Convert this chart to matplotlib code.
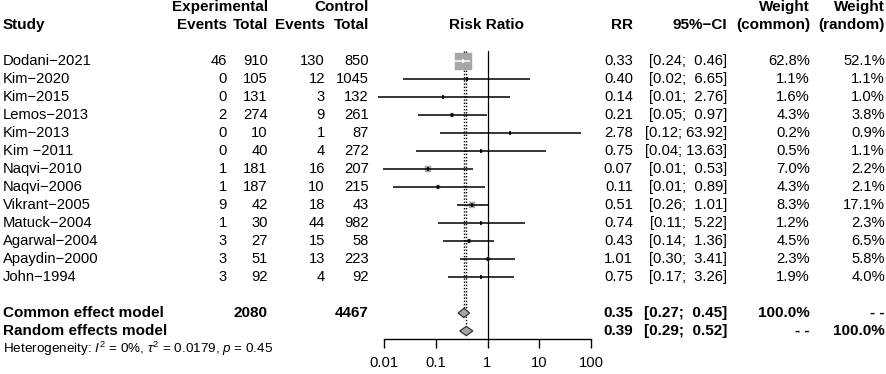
import matplotlib
matplotlib.use("Agg")
import matplotlib.pyplot as plt
import numpy as np

plt.rcParams['font.family'] = ['Liberation Sans', 'DejaVu Sans']
plt.rcParams['mathtext.fontset'] = 'custom'
plt.rcParams['mathtext.rm'] = 'Liberation Sans'
plt.rcParams['mathtext.it'] = 'Liberation Sans:italic'
plt.rcParams['mathtext.bf'] = 'Liberation Sans:bold'

# ---------------- data ----------------
studies = ["Dodani\u22122021", "Kim\u22122020", "Kim\u22122015", "Lemos\u22122013",
           "Kim\u22122013", "Kim \u22122011", "Naqvi\u22122010", "Naqvi\u22122006",
           "Vikrant\u22122005", "Matuck\u22122004", "Agarwal\u22122004",
           "Apaydin\u22122000", "John\u22121994"]
exp_events = [46, 0, 0, 2, 0, 0, 1, 1, 9, 1, 3, 3, 3]
exp_total = [910, 105, 131, 274, 10, 40, 181, 187, 42, 30, 27, 51, 92]
ctrl_events = [130, 12, 3, 9, 1, 4, 16, 10, 18, 44, 15, 13, 4]
ctrl_total = [850, 1045, 132, 261, 87, 272, 207, 215, 43, 982, 58, 223, 92]
rr = [0.33, 0.40, 0.14, 0.21, 2.78, 0.75, 0.07, 0.11, 0.51, 0.74, 0.43, 1.01, 0.75]
ci_lo = [0.24, 0.0236, 0.0076, 0.046, 0.12, 0.041, 0.0094, 0.0147, 0.26, 0.11, 0.14, 0.30, 0.17]
ci_hi = [0.46, 6.65, 2.76, 0.97, 63.92, 13.63, 0.53, 0.89, 1.01, 5.22, 1.36, 3.41, 3.26]
w_common = [62.8, 1.1, 1.6, 4.3, 0.2, 0.5, 7.0, 4.3, 8.3, 1.2, 4.5, 2.3, 1.9]
w_random = [52.1, 1.1, 1.0, 3.8, 0.9, 1.1, 2.2, 2.1, 17.1, 2.3, 6.5, 5.8, 4.0]

total_exp = 2080
total_ctrl = 4467
common = (0.35, 0.27, 0.45)
random_ = (0.39, 0.29, 0.52)
het_text = r"Heterogeneity: $I^2$ = 0%, $\tau^2$ = 0.0179, $p$ = 0.45"
xticks = [0.01, 0.1, 1, 10, 100]
xticklabels = ["0.01", "0.1", "1", "10", "100"]

# ---------------- layout ----------------
W, H = 886, 374
fig = plt.figure(figsize=(W / 100, H / 100), dpi=100)
fig.patch.set_facecolor("white")

ROW0, DY = 61, 18          # pixel y of first study row, row spacing


def ypix(r):
    return ROW0 + DY * r


axt = fig.add_axes([0, 0, 1, 1])
axt.set_xlim(0, W)
axt.set_ylim(H, 0)
axt.axis("off")

FS = 10.6
BFS = 11.0

# column right edges (pixels)
X_STUDY = 3
X_EE, X_ET, X_CE, X_CT = 227, 268, 325, 369
X_RR, X_CI, X_WC, X_WR = 633, 727, 810, 885
X_FOREST = 487


def txt(x, r, s, ha="right", bold=False, fs=None, **kw):
    if fs is None:
        fs = BFS if bold else FS
    axt.text(x, ypix(r), s, ha=ha, va="center", fontsize=fs,
             fontweight="bold" if bold else "normal", color="black", **kw)


# headers
txt(X_ET, -3, "Experimental", bold=True)
txt(X_CT, -3, "Control", bold=True)
txt(X_WC, -3, "Weight", bold=True)
txt(X_WR, -3, "Weight", bold=True)
txt(X_STUDY, -2, "Study", ha="left", bold=True)
txt(X_EE, -2, "Events", bold=True)
txt(X_ET, -2, "Total", bold=True)
txt(X_CE, -2, "Events", bold=True)
txt(X_CT, -2, "Total", bold=True)
txt(X_FOREST, -2, "Risk Ratio", ha="center", bold=True)
txt(X_RR, -2, "RR", bold=True)
txt(X_CI, -2, "95%\u2212CI", bold=True)
txt(X_WC, -2, "(common)", bold=True)
txt(X_WR, -2, "(random)", bold=True)


def ci_str(lo, hi):
    a = f"{lo:.2f}"
    b = f"{hi:.2f}".rjust(5)
    return f"[{a}; {b}]"


n = len(studies)
for i in range(n):
    txt(X_STUDY, i, studies[i], ha="left")
    txt(X_EE, i, str(exp_events[i]))
    txt(X_ET, i, str(exp_total[i]))
    txt(X_CE, i, str(ctrl_events[i]))
    txt(X_CT, i, str(ctrl_total[i]))
    txt(X_RR, i, f"{rr[i]:.2f}")
    txt(X_CI, i, ci_str(ci_lo[i], ci_hi[i]))
    txt(X_WC, i, f"{w_common[i]:.1f}%")
    txt(X_WR, i, f"{w_random[i]:.1f}%")

rc, rr_ = n + 1, n + 2
txt(X_STUDY, rc, "Common effect model", ha="left", bold=True)
txt(X_ET, rc, str(total_exp), bold=True)
txt(X_CT, rc, str(total_ctrl), bold=True)
txt(X_RR, rc, f"{common[0]:.2f}", bold=True)
txt(X_CI, rc, ci_str(common[1], common[2]), bold=True)
txt(X_WC, rc, "100.0%", bold=True)
txt(X_WR, rc, "- -", bold=True)
txt(X_STUDY, rr_, "Random effects model", ha="left", bold=True)
txt(X_RR, rr_, f"{random_[0]:.2f}", bold=True)
txt(X_CI, rr_, ci_str(random_[1], random_[2]), bold=True)
txt(X_WC, rr_, "- -", bold=True)
txt(X_WR, rr_, "100.0%", bold=True)
txt(X_STUDY, rr_ + 1, het_text, ha="left", fs=9.7)

# ---------------- forest panel ----------------
AX_L, AX_R, AX_B = 384, 591, 339
axf = fig.add_axes([AX_L / W, (H - AX_B) / H, (AX_R - AX_L) / W, AX_B / H])
axf.set_facecolor("none")
axf.set_xscale("log")
axf.set_xlim(0.01, 100)
r_bot = (AX_B - ROW0) / DY
r_top = (0 - ROW0) / DY
axf.set_ylim(r_bot, r_top)
for s in ["top", "right", "left"]:
    axf.spines[s].set_visible(False)
axf.spines["bottom"].set_linewidth(1.0)
axf.set_yticks([])
axf.set_xticks(xticks)
axf.set_xticklabels(xticklabels, fontsize=FS)
axf.xaxis.set_minor_locator(matplotlib.ticker.NullLocator())
axf.tick_params(axis="x", direction="out", length=6.5, width=1.0, pad=6)

top_line = -0.55
# reference line at 1
axf.plot([1, 1], [top_line, r_bot], color="black", lw=0.9, zorder=2,
         clip_on=False)
# common / random dotted lines
axf.plot([common[0]] * 2, [top_line, rc - 0.3], color="black", lw=1.0,
         ls=(0, (1, 1.3)), zorder=2)
axf.plot([random_[0]] * 2, [top_line, rr_ - 0.3], color="black", lw=1.0,
         ls=(0, (1, 1.3)), zorder=2)

max_side_px = 17.0
for i in range(n):
    side = max_side_px * np.sqrt(w_common[i] / max(w_common))
    ms = max(side, 1.0) * 0.72
    axf.plot([rr[i]], [i], marker="s", ms=ms, mfc="#a6a6a6", mec="#a6a6a6",
             mew=0.3, zorder=3, clip_on=False)
    inside = (abs(np.log10(ci_lo[i]) - np.log10(rr[i])) * 51.75 < side / 2 and
              abs(np.log10(ci_hi[i]) - np.log10(rr[i])) * 51.75 < side / 2)
    col = "white" if inside else "black"
    axf.plot([ci_lo[i], ci_hi[i]], [i, i], color=col, lw=1.1, zorder=4,
             clip_on=False, solid_capstyle="butt")
    axf.plot([rr[i]], [i], marker="|", ms=3.5, mew=1.2, color=col, zorder=5,
             clip_on=False)

# diamonds
for (est, lo, hi), r in [(common, rc), (random_, rr_)]:
    h = 0.26
    axf.fill([lo, est, hi, est, lo], [r, r - h, r, r + h, r],
             facecolor="#a6a6a6", edgecolor="#333333", lw=0.9, zorder=4)

fig.savefig("out.png", dpi=100, facecolor="white")
